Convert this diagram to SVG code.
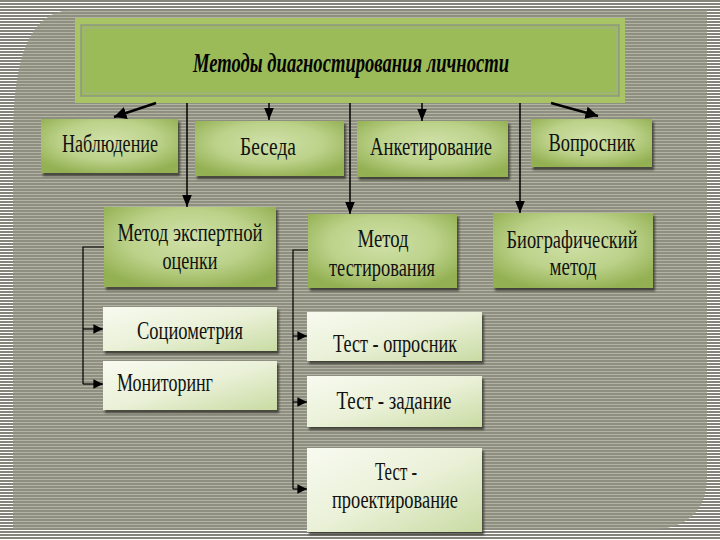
<svg xmlns="http://www.w3.org/2000/svg" width="720" height="540" viewBox="0 0 720 540">
<style>
.t{font-family:"Liberation Serif","DejaVu Serif",serif;font-size:26px;fill:#111;text-anchor:middle}
.title{font-family:"Liberation Serif","DejaVu Serif",serif;font-size:28px;font-weight:bold;font-style:italic;fill:#050505;text-anchor:middle}
.g{fill:url(#gb);filter:url(#sh)}
.p{fill:url(#pb);filter:url(#sh)}
.c{stroke:#000;fill:none;stroke-width:1.2}
.ca{stroke:#000;fill:none;stroke-width:1.5;marker-end:url(#ah)}
.cb{stroke:#000;fill:none;stroke-width:1.2;marker-end:url(#ahb)}
.cd{stroke:#000;fill:none;stroke-width:2.5;marker-end:url(#ahs)}
</style>
<defs>
<pattern id="outer" width="6" height="3" patternUnits="userSpaceOnUse">
<rect width="6" height="3" fill="#ffffff"/>
<rect width="6" height="2" fill="#84847a"/>
</pattern>
<pattern id="inner" width="6" height="3" patternUnits="userSpaceOnUse">
<rect width="6" height="3" fill="#8f8f81"/>
<rect y="2" width="6" height="1" fill="#b3b3a4"/>
</pattern>
<radialGradient id="gb" cx="50%" cy="40%" r="65%">
<stop offset="0" stop-color="#d0e1a8"/>
<stop offset="0.55" stop-color="#bcd28a"/>
<stop offset="1" stop-color="#93b052"/>
</radialGradient>
<linearGradient id="pb" x1="0" y1="0" x2="1" y2="1">
<stop offset="0" stop-color="#f8faf0"/>
<stop offset="0.5" stop-color="#eaf1d8"/>
<stop offset="1" stop-color="#c9dba3"/>
</linearGradient>
<filter id="sh" x="-10%" y="-10%" width="125%" height="130%">
<feDropShadow dx="2" dy="3" stdDeviation="1.2" flood-color="#2a2a22" flood-opacity="0.75"/>
</filter>
<marker id="ah" viewBox="0 0 10 8" refX="10" refY="4" markerWidth="8" markerHeight="6.4" orient="auto" markerUnits="strokeWidth">
<path d="M0,0 L10,4 L0,8 Z" fill="#000"/>
</marker>
<marker id="ahb" viewBox="0 0 10 10" refX="10" refY="5" markerWidth="8" markerHeight="8" orient="auto" markerUnits="strokeWidth">
<path d="M0,0 L10,5 L0,10 Z" fill="#000"/>
</marker>
<marker id="ahs" viewBox="0 0 10 10" refX="10" refY="5" markerWidth="5" markerHeight="5" orient="auto" markerUnits="strokeWidth">
<path d="M0,0 L10,5 L0,10 Z" fill="#000"/>
</marker>
</defs>
<rect width="720" height="540" fill="url(#outer)"/>
<path d="M13,140 C13,60 28,13 70,10 L707,10 L707,480 Q705,528 650,530 L13,530 Z" fill="url(#inner)"/>

<g id="title">
<rect x="75" y="18" width="550" height="85" fill="#a8c464"/>
<rect x="81" y="25" width="538" height="71" fill="#9bbb59" stroke="#8d9884" stroke-width="1.5"/>
<rect x="84" y="28" width="532" height="65" fill="none" stroke="#a4ad92" stroke-width="1"/>
<text class="title" x="351" y="72" textLength="316" lengthAdjust="spacingAndGlyphs">Методы диагностирования личности</text>
</g>

<g id="connectors">
<path class="cd" d="M156,103 L114,117"/>
<path class="cd" d="M551,103 L598,116"/>
<path class="ca" d="M269,103 L269,120"/>
<path class="ca" d="M422,103 L422,121"/>
<path class="ca" d="M187,103 L187,207"/>
<path class="ca" d="M350,103 L350,214"/>
<path class="ca" d="M520,103 L520,213"/>
<path class="c" d="M104,247 L83,247 L83,384"/>
<path class="cb" d="M83,329 L103,329"/>
<path class="cb" d="M83,384 L103,384"/>
<path class="c" d="M308,250 L293,250 L293,489"/>
<path class="cb" d="M293,336 L307,336"/>
<path class="cb" d="M293,402 L307,402"/>
<path class="cb" d="M293,489 L307,489"/>
</g>

<g id="n-nabl"><rect class="g" x="41" y="119" width="137" height="54"/>
<text class="t" x="110" y="152" textLength="96" lengthAdjust="spacingAndGlyphs">Наблюдение</text></g>
<g id="n-beseda"><rect class="g" x="195" y="121" width="149" height="55"/>
<text class="t" x="268" y="155" textLength="56" lengthAdjust="spacingAndGlyphs">Беседа</text></g>
<g id="n-anket"><rect class="g" x="357" y="121" width="151" height="56"/>
<text class="t" x="431" y="155" textLength="122" lengthAdjust="spacingAndGlyphs">Анкетирование</text></g>
<g id="n-vopros"><rect class="g" x="531" y="119" width="121" height="48"/>
<text class="t" x="592" y="151" textLength="87" lengthAdjust="spacingAndGlyphs">Вопросник</text></g>

<g id="n-expert"><rect class="g" x="104" y="207" width="172" height="80"/>
<text class="t" x="190" y="241" textLength="145" lengthAdjust="spacingAndGlyphs">Метод экспертной</text>
<text class="t" x="190" y="269" textLength="55" lengthAdjust="spacingAndGlyphs">оценки</text></g>
<g id="n-test"><rect class="g" x="308" y="214" width="149" height="74"/>
<text class="t" x="383" y="247" textLength="51" lengthAdjust="spacingAndGlyphs">Метод</text>
<text class="t" x="382" y="276" textLength="106" lengthAdjust="spacingAndGlyphs">тестирования</text></g>
<g id="n-bio"><rect class="g" x="493" y="213" width="160" height="75"/>
<text class="t" x="572" y="248" textLength="131" lengthAdjust="spacingAndGlyphs">Биографический</text>
<text class="t" x="573" y="275" textLength="47" lengthAdjust="spacingAndGlyphs">метод</text></g>

<g id="n-socio"><rect class="p" x="103" y="307" width="174" height="44"/>
<text class="t" x="190" y="339" textLength="106" lengthAdjust="spacingAndGlyphs">Социометрия</text></g>
<g id="n-monit"><rect class="p" x="103" y="361" width="174" height="49"/>
<text class="t" x="117" y="391" style="text-anchor:start" textLength="96" lengthAdjust="spacingAndGlyphs">Мониторинг</text></g>

<g id="n-t1"><rect class="p" x="307" y="312" width="175" height="49"/>
<text class="t" x="395" y="352" textLength="124" lengthAdjust="spacingAndGlyphs">Тест - опросник</text></g>
<g id="n-t2"><rect class="p" x="307" y="376" width="175" height="51"/>
<text class="t" x="394" y="409" textLength="115" lengthAdjust="spacingAndGlyphs">Тест - задание</text></g>
<g id="n-t3"><rect class="p" x="307" y="448" width="175" height="84"/>
<text class="t" x="396" y="480" textLength="42" lengthAdjust="spacingAndGlyphs">Тест -</text>
<text class="t" x="395" y="508" textLength="126" lengthAdjust="spacingAndGlyphs">проектирование</text></g>
</svg>
